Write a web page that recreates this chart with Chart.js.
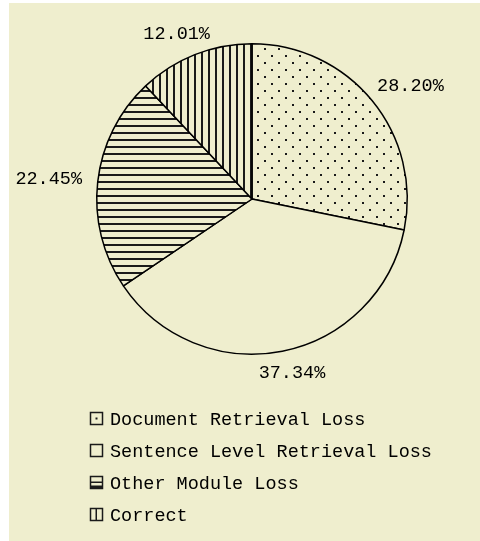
<!DOCTYPE html>
<html>
<head>
<meta charset="utf-8">
<script src="https://cdn.jsdelivr.net/npm/chart.js@4.4.0/dist/chart.umd.min.js"></script>
<style>
    body { margin: 0; background: #ffffff; }
    #wrap { position: absolute; left: 9px; top: 3px; width: 471px; height: 538px; background: #efeece; }
</style>
</head>
<body>
<div id="wrap"><canvas id="pieChart" width="471" height="538"></canvas></div>
<script>
// Error breakdown data (percent of questions)
const categories = ['Document Retrieval Loss', 'Sentence Level Retrieval Loss', 'Other Module Loss', 'Correct'];
const shares = [28.20, 37.34, 22.45, 12.01];
const fills = ['dots', 'none', 'hlines', 'vlines'];

const BG = '#efeece';
const INK = '#1a1a1a';
const FONT = '18.5px "Liberation Mono", "DejaVu Sans Mono", monospace';

// Build a hatch/dot pattern for a slice
function makePattern(kind) {
    const c = document.createElement('canvas');
    const size = kind === 'dots' ? 14 : 7;
    c.width = size;
    c.height = size;
    const g = c.getContext('2d');
    g.fillStyle = BG;
    g.fillRect(0, 0, size, size);
    g.fillStyle = INK;
    if (kind === 'dots') {
        g.fillRect(3, 3, 2, 2);
        g.fillRect(10, 10, 2, 2);
    } else if (kind === 'hlines') {
        g.fillRect(0, 3, size, 2);
    } else if (kind === 'vlines') {
        g.fillRect(3, 0, 2, size);
    }
    return document.getElementById('pieChart').getContext('2d').createPattern(c, 'repeat');
}

// Percent labels outside each slice
const outsideLabels = {
    id: 'outsideLabels',
    afterDatasetsDraw(chart) {
        const ctx = chart.ctx;
        const meta = chart.getDatasetMeta(0);
        ctx.save();
        ctx.font = FONT;
        ctx.fillStyle = '#000';
        ctx.textAlign = 'center';
        ctx.textBaseline = 'middle';
        meta.data.forEach(function(arc, i) {
            const p = arc.getProps(['x', 'y', 'startAngle', 'endAngle', 'outerRadius'], true);
            const mid = (p.startAngle + p.endAngle) / 2;
            const text = shares[i].toFixed(2) + '%';
            const w = ctx.measureText(text).width;
            const h = 13;
            const d = p.outerRadius + 16;
            const x = p.x + Math.cos(mid) * (d + w / 2);
            const y = p.y + Math.sin(mid) * (d + h / 2);
            ctx.fillText(text, x, y);
        });
        ctx.restore();
    }
};

// Legend list below the pie with small pattern icons
const listLegend = {
    id: 'listLegend',
    afterDraw(chart) {
        const ctx = chart.ctx;
        const left = 81;
        const top = chart.chartArea.bottom + 64;
        const rowGap = 32;
        ctx.save();
        ctx.font = FONT;
        ctx.fillStyle = '#000';
        ctx.textBaseline = 'middle';
        categories.forEach(function(name, i) {
            const cy = Math.round(top + i * rowGap);
            const bx = left + 0.5, by = cy - 6.5;
            ctx.strokeStyle = INK;
            ctx.lineWidth = 1.5;
            ctx.strokeRect(bx, by, 12, 12);
            ctx.fillStyle = INK;
            if (fills[i] === 'dots') {
                ctx.fillRect(bx + 5, by + 5, 2, 2);
            } else if (fills[i] === 'hlines') {
                ctx.fillRect(bx, by + 5, 12, 1.5);
                ctx.fillRect(bx, by + 9, 12, 3);
            } else if (fills[i] === 'vlines') {
                ctx.fillRect(bx + 5, by, 1.5, 12);
            }
            ctx.fillStyle = '#000';
            ctx.fillText(name, left + 20, cy + 1);
        });
        ctx.restore();
    }
};

const ctx = document.getElementById('pieChart').getContext('2d');
new Chart(ctx, {
    type: 'pie',
    data: {
        labels: categories,
        datasets: [{
            data: shares,
            backgroundColor: fills.map(function(k) { return k === 'none' ? BG : makePattern(k); }),
            borderColor: '#000',
            borderWidth: 1.5
        }]
    },
    options: {
        responsive: false,
        animation: false,
        layout: { padding: { left: 87, right: 72, top: 40, bottom: 186 } },
        plugins: {
            legend: { display: false },
            tooltip: { enabled: false }
        }
    },
    plugins: [outsideLabels, listLegend]
});
</script>
</body>
</html>
